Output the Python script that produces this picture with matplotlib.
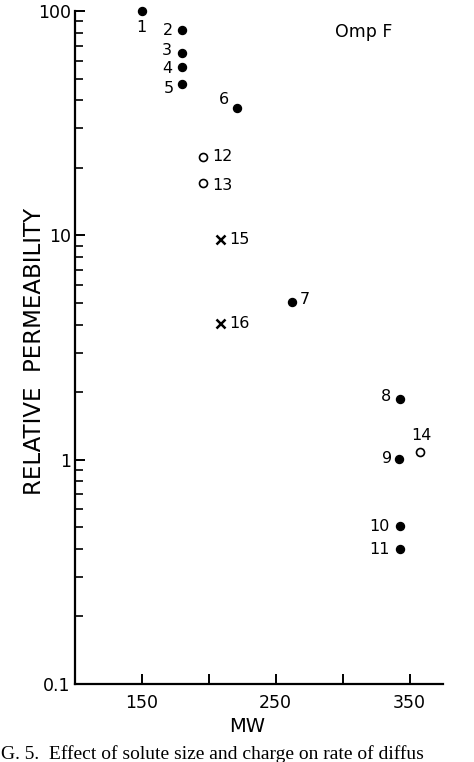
import matplotlib
matplotlib.use("Agg")
import matplotlib.pyplot as plt
from matplotlib.ticker import FixedLocator, LogLocator, NullFormatter, FixedFormatter

# ---- data ----
solid_ids = [1, 2, 3, 4, 5, 6, 7, 8, 9, 10, 11]
solid_mw = [150, 180, 180, 180, 180, 221, 262, 343, 342, 343, 343]
solid_perm = [100, 82, 65, 56, 47.5, 37, 5.05, 1.87, 1.01, 0.505, 0.40]

open_ids = [12, 13, 14]
open_mw = [196, 196, 358]
open_perm = [22.4, 17.1, 1.08]

cross_ids = [15, 16]
cross_mw = [208, 208]
cross_perm = [9.6, 4.05]

x_ticks = [150, 200, 250, 300, 350]
x_tick_labels = ["150", "", "250", "", "350"]
y_ticks = [0.1, 1, 10, 100]
y_tick_labels = ["0.1", "1", "10", "100"]

# ---- layout: label offsets in pixels (dx, dy) ----
label_offsets = {
    1: (-1, -16), 2: (-14, 0), 3: (-15, 2), 4: (-15, -1), 5: (-13, -5),
    6: (-13, 8), 7: (13, 2), 8: (-14, 2), 9: (-12, 0), 10: (-21, 0),
    11: (-21, -1), 12: (19, 0), 13: (19, -2), 14: (1, 17), 15: (20, 0), 16: (20, 0),
}

W, H, DPI = 474, 762, 100
fig = plt.figure(figsize=(W / DPI, H / DPI), dpi=DPI)
ax = fig.add_axes([75 / W, 1 - 684 / H, (443 - 75) / W, (684 - 11) / H])

ax.set_yscale("log")
ax.set_xlim(100, 375)
ax.set_ylim(0.1, 100)

ms_px = 8
ax.plot(solid_mw, solid_perm, "o", color="black", markersize=ms_px * 0.72,
        clip_on=False, zorder=3)
ax.plot(open_mw, open_perm, "o", markerfacecolor="white", markeredgecolor="black",
        markeredgewidth=1.2, markersize=ms_px * 0.72, clip_on=False, zorder=3)
ax.plot(cross_mw, cross_perm, "x", color="black", markersize=9 * 0.72,
        markeredgewidth=1.8, clip_on=False, zorder=3)

label_font = dict(fontsize=11.5, family="DejaVu Sans", color="black")
for ids, xs, ys in [(solid_ids, solid_mw, solid_perm),
                    (open_ids, open_mw, open_perm),
                    (cross_ids, cross_mw, cross_perm)]:
    for i, x, y in zip(ids, xs, ys):
        dx, dy = label_offsets[i]
        ax.annotate(str(i), (x, y), xytext=(dx * 0.72, dy * 0.72),
                    textcoords="offset points", ha="center", va="center",
                    annotation_clip=False, **label_font)

# spines
for s in ["top", "right"]:
    ax.spines[s].set_visible(False)
for s in ["left", "bottom"]:
    ax.spines[s].set_linewidth(1.6)

ax.xaxis.set_major_locator(FixedLocator(x_ticks))
ax.xaxis.set_major_formatter(FixedFormatter(x_tick_labels))
ax.yaxis.set_major_locator(FixedLocator(y_ticks))
ax.yaxis.set_major_formatter(FixedFormatter(y_tick_labels))
ax.yaxis.set_minor_locator(LogLocator(base=10, subs=range(2, 10)))
ax.yaxis.set_minor_formatter(NullFormatter())

ax.tick_params(axis="x", which="major", direction="in", length=7, width=1.4,
               labelsize=12.5, pad=7)
ax.tick_params(axis="y", which="major", direction="in", length=7, width=1.4,
               labelsize=12.5, pad=3)
ax.tick_params(axis="y", which="minor", direction="in", length=5.5, width=1.2)

ax.set_xlabel("MW", fontsize=14)
ax.xaxis.set_label_coords((247 - 75) / 368, -33 / 673)
ax.set_ylabel("RELATIVE  PERMEABILITY", fontsize=16.5)
ax.yaxis.set_label_coords((46 - 75) / 368, (684 - 351) / 673)

ax.text((364 - 75) / 368, (684 - 32) / 673, "Omp F", transform=ax.transAxes,
        ha="center", va="center", fontsize=12.5)

fig.text(0.002, 1 - 759 / H, "G. 5.  Effect of solute size and charge on rate of diffus",
         ha="left", va="baseline", fontsize=14, family="Liberation Serif")

fig.savefig("out.png", dpi=DPI, facecolor="white")
